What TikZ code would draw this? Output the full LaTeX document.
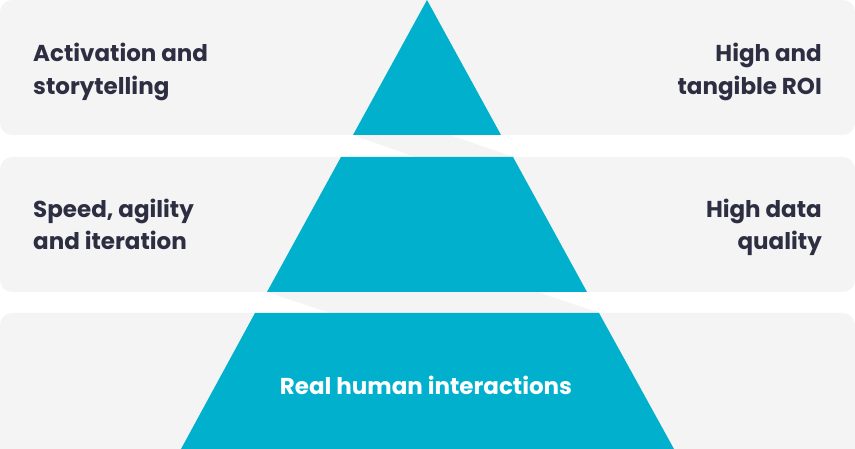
\documentclass[tikz,border=0pt]{standalone}
\usepackage{fontspec}
\setmainfont{Poppins}
\definecolor{band}{HTML}{F4F4F4}
\definecolor{teal}{HTML}{00B0CC}
\definecolor{ink}{HTML}{2E2E42}
\begin{document}
\begin{tikzpicture}[x=1pt,y=-1pt,
  lbl/.style={font=\fontsize{23}{30}\selectfont\bfseries,text=ink,inner sep=0pt}]
\useasboundingbox (0,0) rectangle (855,449);
\fill[band,rounded corners=12pt] (0,0) rectangle (855,135);
\fill[band,rounded corners=12pt] (0,157) rectangle (855,292);
\fill[band,rounded corners=12pt] (0,313) rectangle (855,461);
\fill[band] (353,135) -- (450,135) -- (514,157) -- (415,157) -- cycle;
\fill[band] (267,292) -- (537,292) -- (600,313) -- (330,313) -- cycle;
\fill[teal] (427,0) -- (501,135) -- (353,135) -- cycle;
\fill[teal] (341,157) -- (513,157) -- (587,292) -- (267,292) -- cycle;
\fill[teal] (255,313) -- (599,313) -- (674,449) -- (181,449) -- cycle;
\node[lbl,anchor=base west] (a1) at (33,62) {Activation and};
\node[lbl,anchor=base west] (a2) at (33,95) {storytelling};
\node[lbl,anchor=base east] (b1) at (822,62) {High and};
\node[lbl,anchor=base east] (b2) at (822,95) {tangible ROI};
\node[lbl,anchor=base west] (c1) at (33,218) {Speed, agility};
\node[lbl,anchor=base west] (c2) at (33,250) {and iteration};
\node[lbl,anchor=base east] (d1) at (822,218) {High data};
\node[lbl,anchor=base east] (d2) at (822,250) {quality};
\node[lbl,text=white,anchor=base] (e) at (426,394) {Real human interactions};
\end{tikzpicture}
\end{document}
